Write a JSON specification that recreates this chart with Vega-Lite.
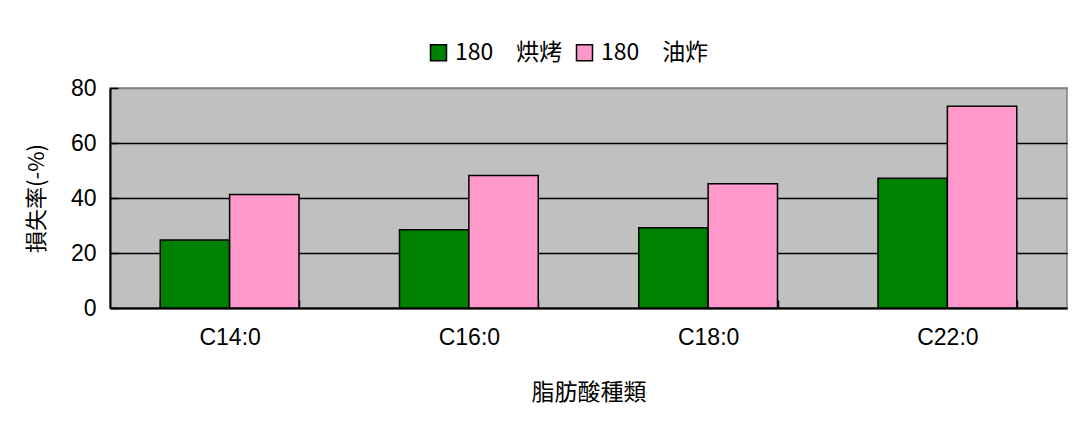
{
  "$schema": "https://vega.github.io/schema/vega-lite/v6.json",
  "width": 957,
  "height": 220,
  "autosize": "none",
  "padding": {"left": 110, "top": 88, "right": 11, "bottom": 115},
  "background": "white",
  "data": {
    "values": [
      {"acid": "C14:0", "series": "180　烘烤", "loss": 24.7},
      {"acid": "C14:0", "series": "180　油炸", "loss": 41.3},
      {"acid": "C16:0", "series": "180　烘烤", "loss": 28.5},
      {"acid": "C16:0", "series": "180　油炸", "loss": 48.2},
      {"acid": "C18:0", "series": "180　烘烤", "loss": 29.2},
      {"acid": "C18:0", "series": "180　油炸", "loss": 45.2},
      {"acid": "C22:0", "series": "180　烘烤", "loss": 47.2},
      {"acid": "C22:0", "series": "180　油炸", "loss": 73.4}
    ]
  },
  "mark": {"type": "bar", "stroke": "black", "strokeWidth": 1.5},
  "encoding": {
    "x": {
      "field": "acid",
      "type": "nominal",
      "sort": null,
      "scale": {"paddingInner": 0.42, "paddingOuter": 0.21},
      "axis": {
        "title": "脂肪酸種類",
        "titleFont": "Noto Sans CJK TC",
        "titleFontSize": 23,
        "titleFontWeight": "normal",
        "titleColor": "black",
        "titleX": 478.5,
        "titleY": 84,
        "titleAlign": "center",
        "titleBaseline": "middle",
        "labelAngle": 0,
        "labelFont": "Liberation Sans Narrow, Liberation Sans",
        "labelFontSize": 23,
        "labelColor": "black",
        "labelPadding": 26,
        "labelBaseline": "top",
        "tickBand": "extent",
        "tickSize": -8,
        "tickColor": "black",
        "tickWidth": 1.5,
        "domainColor": "black",
        "domainWidth": 2,
        "grid": false
      }
    },
    "xOffset": {"field": "series", "sort": ["180　烘烤", "180　油炸"]},
    "y": {
      "field": "loss",
      "type": "quantitative",
      "scale": {"domain": [0, 80], "nice": false},
      "axis": {
        "values": [0, 20, 40, 60, 80],
        "title": "損失率(-%)",
        "titleFont": "Liberation Sans Narrow, Noto Sans CJK TC",
        "titleFontSize": 22,
        "titleFontWeight": "normal",
        "titleColor": "black",
        "titleAngle": -90,
        "titleX": -74,
        "titleY": 110,
        "titleAlign": "center",
        "titleBaseline": "middle",
        "labelFont": "Liberation Sans Narrow, Liberation Sans",
        "labelFontSize": 23,
        "labelColor": "black",
        "labelPadding": 22,
        "tickSize": -8,
        "tickColor": "black",
        "tickWidth": 1.5,
        "domainColor": "black",
        "domainWidth": 2,
        "grid": true,
        "gridColor": {"condition": {"test": "datum.value === 80", "value": "#808080"}, "value": "black"},
        "gridWidth": 1.5
      }
    },
    "color": {
      "field": "series",
      "type": "nominal",
      "scale": {"domain": ["180　烘烤", "180　油炸"], "range": ["#008000", "#FF99CC"]},
      "legend": {
        "orient": "none",
        "legendX": 317,
        "legendY": -47,
        "direction": "horizontal",
        "title": null,
        "symbolType": "square",
        "symbolSize": 256,
        "symbolStrokeColor": "black",
        "symbolStrokeWidth": 1.5,
        "symbolOpacity": 1,
        "labelFont": "Liberation Sans Narrow, Noto Sans CJK TC",
        "labelFontSize": 23,
        "labelColor": "black",
        "labelOffset": 5,
        "columnPadding": 10
      }
    }
  },
  "config": {
    "view": {"fill": "#C0C0C0", "stroke": "#808080", "strokeWidth": 1.5}
  }
}
